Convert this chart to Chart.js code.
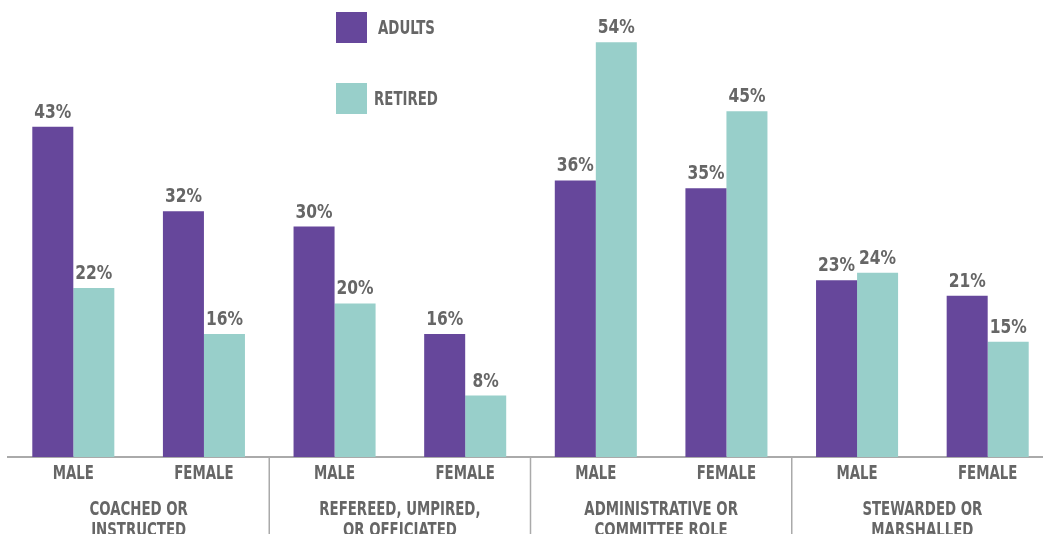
<!DOCTYPE html>
<html>
<head>
<meta charset="utf-8">
<script src="https://cdn.jsdelivr.net/npm/chart.js@4"></script>
<style>
  body { margin: 0; overflow: hidden; background: #fff; }
  #wrap { width: 1053px; height: 534px; }
</style>
</head>
<body>
<div id="wrap"><canvas id="chart1"></canvas></div>
<script>
const labels = ['MALE', 'FEMALE', 'MALE', 'FEMALE', 'MALE', 'FEMALE', 'MALE', 'FEMALE'];
const groups = [['COACHED OR', 'INSTRUCTED'], ['REFEREED, UMPIRED,', 'OR OFFICIATED'], ['ADMINISTRATIVE OR', 'COMMITTEE ROLE'], ['STEWARDED OR', 'MARSHALLED']];
const adults = [43, 32, 30, 16, 36, 35, 23, 21];
const retired = [22, 16, 20, 8, 54, 45, 24, 15];

const purple = '#66479b';
const teal = '#98cfca';
const grey = '#666666';
const font = "'DejaVu Sans Condensed', 'DejaVu Sans', sans-serif";

// squeezed text, the original uses a narrow DIN-like face
function narrowText(c, text, x, y, sx) {
  c.save();
  c.translate(x, y);
  c.scale(sx, 1);
  c.fillText(text, 0, 0);
  c.restore();
}

// draws value labels, category + group labels, separators and the legend
const extras = {
  id: 'extras',
  afterDatasetsDraw(chart) {
    const c = chart.ctx;
    const x = chart.scales.x;
    const bottom = chart.chartArea.bottom;
    c.save();
    c.fillStyle = grey;
    c.textAlign = 'center';
    c.textBaseline = 'alphabetic';
    c.font = 'bold 20px ' + font;
    chart.data.datasets.forEach((ds, di) => {
      chart.getDatasetMeta(di).data.forEach((bar, i) => {
        narrowText(c, ds.data[i] + '%', bar.x, bar.y - 9, 0.86);
      });
    });

    c.font = 'bold 19px ' + font;
    c.textBaseline = 'middle';
    labels.forEach((l, i) => narrowText(c, l, x.getPixelForValue(i), 474, 0.78));

    groups.forEach((g, gi) => {
      const cx = (x.getPixelForValue(gi * 2) + x.getPixelForValue(gi * 2 + 1)) / 2;
      narrowText(c, g[0], cx, 510, 0.78);
      narrowText(c, g[1], cx, 531, 0.78);
    });

    c.strokeStyle = '#aaaaaa';
    c.lineWidth = 1.5;
    for (let gi = 1; gi < groups.length; gi++) {
      const sx = (x.getPixelForValue(gi * 2 - 1) + x.getPixelForValue(gi * 2)) / 2;
      c.beginPath();
      c.moveTo(sx, bottom);
      c.lineTo(sx, chart.height);
      c.stroke();
    }

    // legend
    c.textAlign = 'left';
    const rows = [[12, 378], [83, 374]];
    chart.data.datasets.forEach((ds, di) => {
      c.fillStyle = ds.backgroundColor;
      c.fillRect(336, rows[di][0], 31, 31);
      c.fillStyle = grey;
      narrowText(c, ds.label.toUpperCase(), rows[di][1], rows[di][0] + 17, 0.78);
    });
    c.restore();
  }
};

const ctx = document.getElementById('chart1').getContext('2d');
const chart1 = new Chart(ctx, {
  type: 'bar',
  data: {
    labels: labels,
    datasets: [{
      label: 'Adults',
      data: adults,
      backgroundColor: purple,
      borderWidth: 0
    },
    {
      label: 'Retired',
      data: retired,
      backgroundColor: teal,
      borderWidth: 0
    }]
  },
  options: {
    responsive: true,
    maintainAspectRatio: false,
    animation: false,
    layout: {
      padding: { left: 8, right: 0, top: 0, bottom: 0 }
    },
    plugins: {
      legend: { display: false },
      tooltip: { enabled: false }
    },
    datasets: {
      bar: {
        barPercentage: 1,
        categoryPercentage: 0.628
      }
    },
    scales: {
      x: {
        grid: { display: false },
        border: { display: true, color: '#aaaaaa', width: 2 },
        ticks: { display: false },
        afterFit(scale) { scale.height = 77; }
      },
      y: {
        display: false,
        min: 0,
        max: 59.5
      }
    }
  },
  plugins: [extras]
});
</script>
</body>
</html>
